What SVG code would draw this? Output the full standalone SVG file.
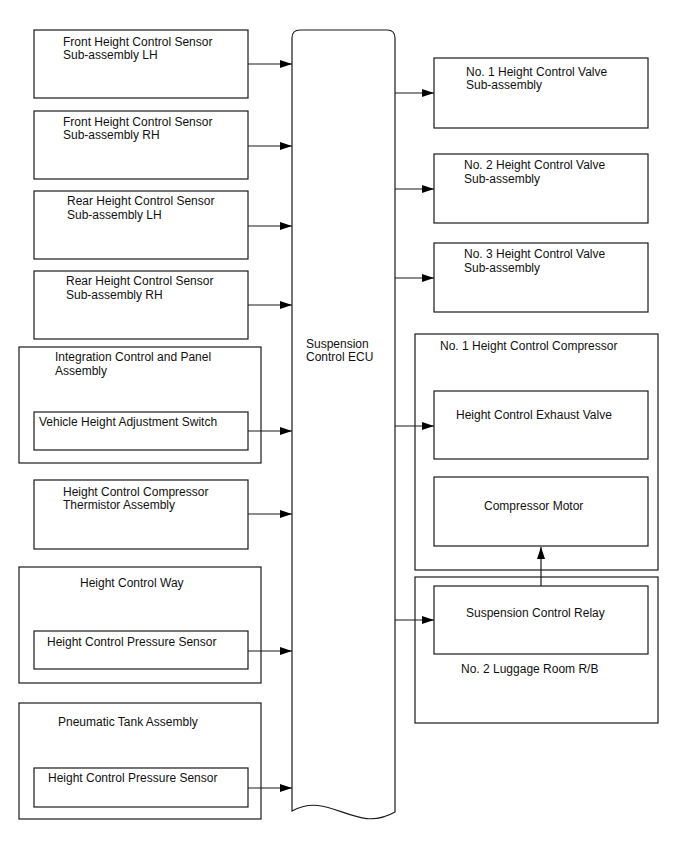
<svg xmlns="http://www.w3.org/2000/svg" width="688" height="852" viewBox="0 0 688 852">
<style>
  .box { fill: #fff; stroke: #1a1a1a; stroke-width: 1.2; }
  .t { font-family: "Liberation Sans", Arial, sans-serif; font-size: 12px; fill: #111; }
  .c { stroke: #1a1a1a; stroke-width: 1.2; fill: none; marker-end: url(#ah); }
</style>
<defs>
  <marker id="ah" markerUnits="userSpaceOnUse" markerWidth="12" markerHeight="8" refX="12" refY="4" orient="auto">
    <path d="M0,0 L12,4 L0,8 z" fill="#000"/>
  </marker>
</defs>
<rect width="688" height="852" fill="#fff"/>

<g id="ecu">
  <path class="box" d="M292,38 Q292,30 300,30 L387,30 Q395,30 395,38 L395,812 C355,835 330,790 292,811 Z"/>
  <text class="t" x="306" y="348">Suspension</text>
  <text class="t" x="306" y="361">Control ECU</text>
</g>

<g id="front-lh">
  <rect class="box" x="34" y="30" width="214" height="68"/>
  <text class="t" x="63" y="46">Front Height Control Sensor</text>
  <text class="t" x="63" y="59">Sub-assembly LH</text>
</g>
<g id="front-rh">
  <rect class="box" x="34" y="111" width="214" height="68"/>
  <text class="t" x="63" y="126">Front Height Control Sensor</text>
  <text class="t" x="63" y="139">Sub-assembly RH</text>
</g>
<g id="rear-lh">
  <rect class="box" x="34" y="191" width="214" height="68"/>
  <text class="t" x="67" y="205">Rear Height Control Sensor</text>
  <text class="t" x="67" y="219">Sub-assembly LH</text>
</g>
<g id="rear-rh">
  <rect class="box" x="34" y="271" width="214" height="68"/>
  <text class="t" x="66" y="285">Rear Height Control Sensor</text>
  <text class="t" x="66" y="299">Sub-assembly RH</text>
</g>
<g id="integration">
  <rect class="box" x="19" y="347" width="242" height="116"/>
  <text class="t" x="55" y="361">Integration Control and Panel</text>
  <text class="t" x="55" y="375">Assembly</text>
</g>
<g id="vh-switch">
  <rect class="box" x="34" y="412" width="214" height="38"/>
  <text class="t" x="39" y="426">Vehicle Height Adjustment Switch</text>
</g>
<g id="thermistor">
  <rect class="box" x="34" y="480" width="214" height="69"/>
  <text class="t" x="63" y="496">Height Control Compressor</text>
  <text class="t" x="63" y="509">Thermistor Assembly</text>
</g>
<g id="hc-way">
  <rect class="box" x="19" y="567" width="242" height="116"/>
  <text class="t" x="80" y="587">Height Control Way</text>
</g>
<g id="pressure-1">
  <rect class="box" x="34" y="631" width="214" height="38"/>
  <text class="t" x="47" y="646">Height Control Pressure Sensor</text>
</g>
<g id="tank">
  <rect class="box" x="19" y="703" width="242" height="116"/>
  <text class="t" x="58" y="726">Pneumatic Tank Assembly</text>
</g>
<g id="pressure-2">
  <rect class="box" x="34" y="768" width="214" height="39"/>
  <text class="t" x="48" y="782">Height Control Pressure Sensor</text>
</g>

<g id="valve-1">
  <rect class="box" x="434" y="58" width="214" height="70"/>
  <text class="t" x="466" y="76">No. 1 Height Control Valve</text>
  <text class="t" x="466" y="89">Sub-assembly</text>
</g>
<g id="valve-2">
  <rect class="box" x="434" y="154" width="214" height="69"/>
  <text class="t" x="464" y="169">No. 2 Height Control Valve</text>
  <text class="t" x="464" y="183">Sub-assembly</text>
</g>
<g id="valve-3">
  <rect class="box" x="434" y="243" width="214" height="69"/>
  <text class="t" x="464" y="258">No. 3 Height Control Valve</text>
  <text class="t" x="464" y="272">Sub-assembly</text>
</g>
<g id="compressor">
  <rect class="box" x="415" y="334" width="243" height="236"/>
  <text class="t" x="440" y="350">No. 1 Height Control Compressor</text>
</g>
<g id="exhaust-valve">
  <rect class="box" x="434" y="391" width="214" height="68"/>
  <text class="t" x="456" y="419">Height Control Exhaust Valve</text>
</g>
<g id="motor">
  <rect class="box" x="434" y="477" width="214" height="69"/>
  <text class="t" x="484" y="510">Compressor Motor</text>
</g>
<g id="luggage-rb">
  <rect class="box" x="415" y="577" width="243" height="146"/>
  <text class="t" x="461" y="673">No. 2 Luggage Room R/B</text>
</g>
<g id="relay">
  <rect class="box" x="434" y="586" width="214" height="68"/>
  <text class="t" x="466" y="617">Suspension Control Relay</text>
</g>

<g id="connectors">
  <line class="c" x1="248" y1="64" x2="292" y2="64"/>
  <line class="c" x1="248" y1="146" x2="292" y2="146"/>
  <line class="c" x1="248" y1="226" x2="292" y2="226"/>
  <line class="c" x1="248" y1="305" x2="292" y2="305"/>
  <line class="c" x1="248" y1="431" x2="292" y2="431"/>
  <line class="c" x1="248" y1="514" x2="292" y2="514"/>
  <line class="c" x1="248" y1="651" x2="292" y2="651"/>
  <line class="c" x1="248" y1="788" x2="292" y2="788"/>
  <line class="c" x1="395" y1="93" x2="434" y2="93"/>
  <line class="c" x1="395" y1="189" x2="434" y2="189"/>
  <line class="c" x1="395" y1="278" x2="434" y2="278"/>
  <line class="c" x1="395" y1="426" x2="434" y2="426"/>
  <line class="c" x1="395" y1="620" x2="434" y2="620"/>
  <line class="c" x1="541" y1="586" x2="541" y2="547"/>
</g>
</svg>
